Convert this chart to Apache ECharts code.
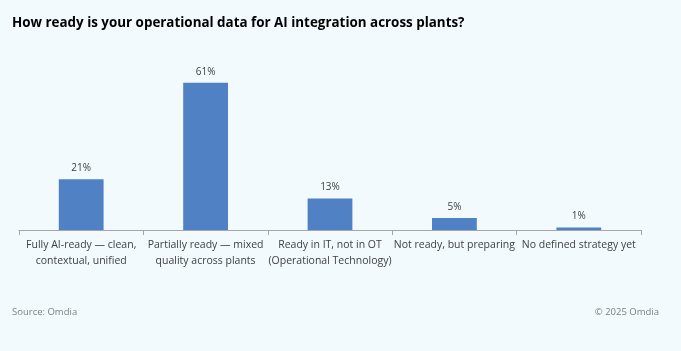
<!DOCTYPE html>
<html><head><meta charset="utf-8">
<script src="https://cdn.jsdelivr.net/npm/echarts@6/dist/echarts.min.js"></script>
<style>html,body{margin:0;padding:0;background:#f2fafd;}#c{width:681px;height:351px;}</style>
</head><body><div id="c"></div>
<script>
const categories = [
  "Fully AI-ready \u2014 clean,\ncontextual, unified",
  "Partially ready \u2014 mixed\nquality across plants",
  "Ready in IT, not in OT\n(Operational Technology)",
  "Not ready, but preparing",
  "No defined strategy yet"
];
const values = [21, 61, 13, 5, 1];
const titleText = "How ready is your operational data for AI integration across plants?";
const sourceText = "Source: Omdia";
const copyrightText = "\u00a9 2025 Omdia";

const FONT = '"Open Sans", sans-serif';
const chart = echarts.init(document.getElementById('c'));
chart.setOption({
  backgroundColor: '#f2fafd',
  animation: false,
  title: [
    {text: titleText, left: 7, top: 12, textStyle: {fontFamily: FONT, fontWeight: 'bold', fontSize: 13.4, color: '#000'}},
    {text: sourceText, left: 7, top: 302, textStyle: {fontFamily: FONT, fontWeight: 'normal', fontSize: 9.5, color: '#7f7f7f'}},
    {text: copyrightText, right: 17, top: 302, textStyle: {fontFamily: FONT, fontWeight: 'normal', fontSize: 9.5, color: '#7f7f7f'}}
  ],
  grid: {left: 19, right: 40, top: 61, bottom: 121, containLabel: false},
  xAxis: {
    type: 'category', data: categories,
    axisLine: {lineStyle: {color: '#a6a6a6'}},
    axisTick: {show: true, length: 5, lineStyle: {color: '#a6a6a6'}},
    axisLabel: {interval: 0, fontFamily: FONT, fontSize: 10.5, color: '#404040', lineHeight: 16, margin: 7}
  },
  yAxis: {type: 'value', min: 0, max: 70, show: false, splitLine: {show: false}},
  series: [{
    type: 'bar', data: values, barWidth: '36%',
    itemStyle: {color: '#4f81c4'},
    label: {show: true, position: 'top', formatter: '{c}%', fontFamily: FONT, fontSize: 10, color: '#404040', distance: 6}
  }]
});
</script></body></html>
